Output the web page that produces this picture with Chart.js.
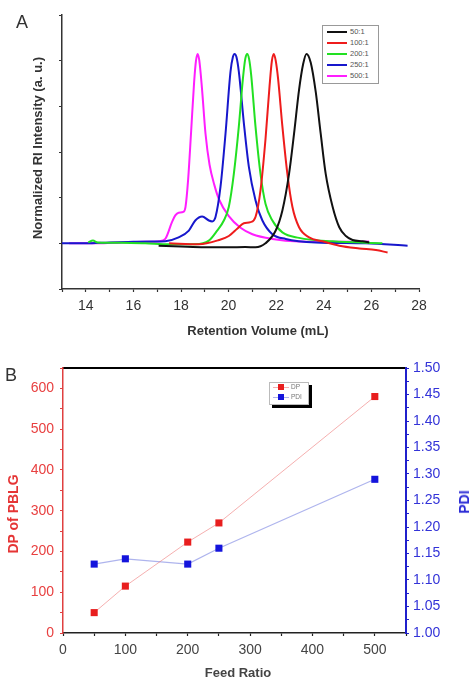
<!DOCTYPE html>
<html><head><meta charset="utf-8">
<script src="https://cdn.jsdelivr.net/npm/chart.js@4.4.1/dist/chart.umd.min.js"></script>
<style>
html,body{margin:0;padding:0;background:#fff;width:473px;height:678px;overflow:hidden;font-family:"Liberation Sans",Arial,sans-serif;}
#wrap{position:relative;width:473px;height:678px;overflow:hidden;}
canvas{position:absolute;left:0;}
.t{position:absolute;white-space:nowrap;transform:translate(-50%,-50%);line-height:1;}
.rot{transform:translate(-50%,-50%) rotate(-90deg);}
#legA{position:absolute;left:322px;top:25px;width:55px;height:57px;border:1px solid #999;background:#fff;}
#legB{position:absolute;left:269px;top:382px;width:38px;height:21px;border:1px solid #bbb;background:#fff;box-shadow:3px 3px 0 #000;}
.row{position:absolute;left:0;height:10px;}
.sw{position:absolute;height:2px;}
.lb{position:absolute;font-size:7.5px;color:#555;line-height:1;}
</style></head><body>
<div id="wrap">
<canvas id="cA" width="473" height="340" style="top:0"></canvas>
<canvas id="cB" width="473" height="345" style="top:340px"></canvas>
<div class="t" style="left:22px;top:22px;font-size:18px;color:#333">A</div>
<div class="t" style="left:11px;top:375px;font-size:18px;color:#333">B</div>
<div class="t rot" style="left:37px;top:148px;font-size:13px;font-weight:bold;color:#333">Normalized RI Intensity (a. u.)</div>
<div class="t" style="left:258px;top:330px;font-size:13px;font-weight:bold;color:#333">Retention Volume (mL)</div>
<div class="t rot" style="left:13px;top:514px;font-size:14px;font-weight:bold;color:#e53535">DP of PBLG</div>
<div class="t rot" style="left:464px;top:502px;font-size:14px;font-weight:bold;color:#2b2bd6">PDI</div>
<div class="t" style="left:238px;top:672px;font-size:13px;font-weight:bold;color:#444">Feed Ratio</div>
<div id="legA"></div>
<div id="legB"></div>
</div>
<script>
// ---------- Panel A: GPC traces ----------
const ratios = ['50:1', '100:1', '200:1', '250:1', '500:1'];

const vol50 = [17.06, 18, 19, 20, 20.7, 21.13, 21.55, 21.98, 22.26, 22.54, 22.75, 22.96, 23.13, 23.27, 23.45, 23.66, 23.87, 24.08, 24.37, 24.65, 24.93, 25.21, 25.63, 25.91];
const ri50  = [-0.013, -0.018, -0.022, -0.022, -0.02, -0.022, 0, 0.07, 0.18, 0.38, 0.6, 0.84, 0.98, 1.037, 0.99, 0.83, 0.6, 0.38, 0.2, 0.088, 0.04, 0.018, 0.011, 0.005];

const vol100 = [17.5, 18.75, 19.59, 20.01, 20.36, 20.64, 20.92, 21.13, 21.34, 21.55, 21.72, 21.82, 21.9, 21.98, 22.08, 22.26, 22.47, 22.68, 22.96, 23.38, 23.94, 24.65, 25.49, 26.19, 26.68];
const ri100  = [0, -0.005, 0.018, 0.04, 0.08, 0.11, 0.116, 0.144, 0.29, 0.57, 0.86, 1.0, 1.037, 1.0, 0.9, 0.64, 0.38, 0.2, 0.088, 0.033, 0.011, -0.013, -0.028, -0.037, -0.05];

const vol200 = [14.1, 14.3, 14.5, 15.5, 16.5, 17.5, 18.6, 19.17, 19.52, 19.8, 20.01, 20.22, 20.43, 20.6, 20.7, 20.78, 20.86, 20.95, 21.13, 21.34, 21.55, 21.84, 22.26, 22.96, 24.37, 26.46];
const ri200  = [0.005, 0.015, 0.005, 0.003, 0.0, -0.005, -0.005, 0.015, 0.07, 0.125, 0.2, 0.38, 0.64, 0.9, 1.01, 1.037, 1.01, 0.92, 0.64, 0.38, 0.217, 0.125, 0.06, 0.03, 0.011, 0];

const vol250 = [13.0, 14, 15, 16, 16.8, 17.34, 17.9, 18.33, 18.6, 18.89, 19.17, 19.31, 19.45, 19.66, 19.87, 20.08, 20.18, 20.25, 20.33, 20.43, 20.64, 20.85, 21.13, 21.42, 21.84, 22.4, 23.66, 25.77, 27.52];
const ri250  = [0, 0, 0.005, 0.008, 0.01, 0.012, 0.033, 0.07, 0.125, 0.147, 0.125, 0.12, 0.144, 0.31, 0.6, 0.94, 1.02, 1.037, 1.02, 0.94, 0.66, 0.42, 0.236, 0.125, 0.05, 0.024, 0.005, 0, -0.013];

const vol500 = [13.3, 14.5, 15.5, 16.5, 17.1, 17.34, 17.62, 17.76, 17.9, 18.1, 18.19, 18.3, 18.42, 18.55, 18.63, 18.7, 18.77, 18.88, 19.03, 19.2, 19.4, 19.6, 20.0, 20.5, 21.0, 21.84, 22.96, 24.5, 25.9];
const ri500  = [0, 0, 0.005, 0.008, 0.012, 0.024, 0.116, 0.153, 0.168, 0.172, 0.2, 0.35, 0.6, 0.88, 1.0, 1.037, 1.0, 0.85, 0.6, 0.43, 0.32, 0.24, 0.15, 0.085, 0.05, 0.024, 0.01, 0.008, 0.01];

// ---------- Panel B: DP and PDI vs feed ratio ----------
const feedRatio = [50, 100, 200, 250, 500];
const dpValues  = [50, 115, 223, 270, 580];
const pdiValues = [1.13, 1.14, 1.13, 1.16, 1.29];

// styles
const lineColors = ['#111111', '#ee1c1c', '#22e022', '#1717cc', '#ff1eff'];
const volSets = [vol50, vol100, vol200, vol250, vol500];
const riSets  = [ri50, ri100, ri200, ri250, ri500];

function pts(xs, ys){ return xs.map((x,i)=>({x:x, y:ys[i]})); }

const tickFont = {family:'"Liberation Sans", Arial, sans-serif', size:14};

const chartA = new Chart(document.getElementById('cA'), {
  type:'line',
  data:{ datasets: ratios.map((r,i)=>({
    label:r, data:pts(volSets[i], riSets[i]),
    borderColor:lineColors[i], borderWidth:2, pointRadius:0,
    cubicInterpolationMode:'monotone', fill:false
  }))},
  options:{
    responsive:false, animation:false, devicePixelRatio:1,
    layout:{padding:{top:15, right:54, left:0, bottom:0}},
    plugins:{legend:{display:false}, tooltip:{enabled:false}},
    scales:{
      x:{type:'linear', min:13, max:28,
        ticks:{stepSize:1, autoSkip:false, maxRotation:0, padding:6, color:'#333', font:tickFont,
          callback:v=>(Math.round(v)%2===0 ? String(Math.round(v)) : '')},
        grid:{drawOnChartArea:false, drawTicks:true, tickLength:3, tickColor:'#333', tickWidth:1.2},
        border:{display:true, color:'#333', width:1.5},
        afterFit:s=>{s.height=51;}
      },
      y:{type:'linear', min:-0.25, max:1.25,
        ticks:{stepSize:0.25, autoSkip:false, callback:()=>''},
        grid:{drawOnChartArea:false, drawTicks:true, tickLength:3, tickColor:'#333', tickWidth:1.2},
        border:{display:true, color:'#333', width:1.5},
        afterFit:s=>{s.width=62;}
      }
    }
  }
});

const chartB = new Chart(document.getElementById('cB'), {
  type:'line',
  data:{ datasets:[
    {label:'DP', data:pts(feedRatio, dpValues), yAxisID:'yDP',
     borderColor:'rgba(236,110,110,0.55)', borderWidth:1, pointStyle:'rect', pointRadius:5,
     pointBackgroundColor:'#e81e1e', pointBorderColor:'#e81e1e', pointBorderWidth:0, tension:0},
    {label:'PDI', data:pts(feedRatio, pdiValues), yAxisID:'yPDI',
     borderColor:'rgba(120,130,225,0.6)', borderWidth:1.2, pointStyle:'rect', pointRadius:5,
     pointBackgroundColor:'#1414dc', pointBorderColor:'#1414dc', pointBorderWidth:0, tension:0}
  ]},
  options:{
    responsive:false, animation:false, devicePixelRatio:1,
    layout:{padding:{top:28, right:0, left:0, bottom:0}},
    plugins:{legend:{display:false}, tooltip:{enabled:false}},
    scales:{
      x:{type:'linear', position:'bottom', min:0, max:550,
        ticks:{stepSize:50, autoSkip:false, maxRotation:0, padding:6, color:'#444', font:tickFont,
          callback:v=>(Math.round(v)%100===0 ? String(Math.round(v)) : '')},
        grid:{drawOnChartArea:false, drawTicks:true, tickLength:3, tickColor:'#222', tickWidth:1.2},
        border:{display:true, color:'#222', width:1.5},
        afterFit:s=>{s.height=52;}
      },
      x2:{type:'linear', position:'top', min:0, max:550,
        ticks:{display:false}, grid:{display:false},
        border:{display:true, color:'#000', width:2},
        afterFit:s=>{s.height=0;}
      },
      yDP:{type:'linear', position:'left', min:0, max:650,
        ticks:{stepSize:50, autoSkip:false, padding:6, color:'#e84040', font:tickFont,
          callback:v=>(Math.round(v)%100===0 ? String(Math.round(v)) : '')},
        grid:{drawOnChartArea:false, drawTicks:true, tickLength:3, tickColor:'#e04040', tickWidth:1.2},
        border:{display:true, color:'#e04040', width:1.5},
        afterFit:s=>{s.width=63;}
      },
      yPDI:{type:'linear', position:'right', min:1.0, max:1.5,
        ticks:{stepSize:0.025, autoSkip:false, padding:4, color:'#3333d8', font:tickFont,
          callback:v=>(Math.round(v*1000)%50===0 ? v.toFixed(2) : '')},
        grid:{drawOnChartArea:false, drawTicks:true, tickLength:3, tickColor:'#2020cc', tickWidth:1.2},
        border:{display:true, color:'#2020cc', width:2},
        afterFit:s=>{s.width=67;}
      }
    }
  }
});

// HTML legends built from the chart datasets
(function(){
  const la = document.getElementById('legA');
  chartA.data.datasets.forEach((d,i)=>{
    const y = 6 + i*11;
    const sw = document.createElement('div'); sw.className='sw';
    sw.style.cssText = 'left:4px;top:'+(y-1)+'px;width:20px;background:'+d.borderColor;
    const lb = document.createElement('div'); lb.className='lb';
    lb.style.cssText = 'left:27px;top:'+(y-4)+'px;';
    lb.textContent = d.label;
    la.appendChild(sw); la.appendChild(lb);
  });
  const lbB = document.getElementById('legB');
  chartB.data.datasets.forEach((d,i)=>{
    const y = 4 + i*10;
    const sw = document.createElement('div'); sw.className='sw';
    sw.style.cssText = 'left:3px;top:'+y+'px;width:16px;height:1px;background:'+d.borderColor;
    const mk = document.createElement('div');
    mk.style.cssText = 'position:absolute;left:8px;top:'+(y-3)+'px;width:6px;height:6px;background:'+d.pointBackgroundColor;
    const lb = document.createElement('div'); lb.className='lb';
    lb.style.cssText = 'left:21px;top:'+(y-3)+'px;font-size:6.5px;color:#777';
    lb.textContent = d.label;
    lbB.appendChild(sw); lbB.appendChild(mk); lbB.appendChild(lb);
  });
})();
</script>
</body></html>
